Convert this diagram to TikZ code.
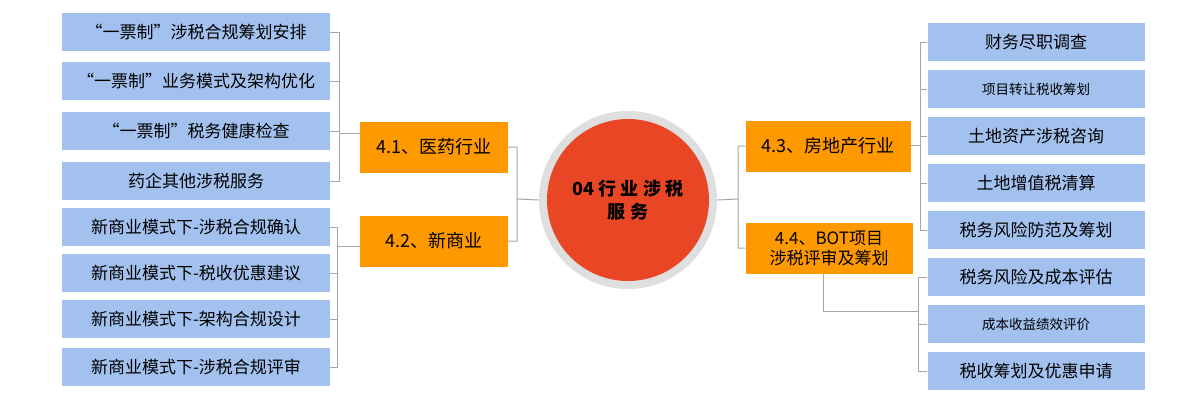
\documentclass[tikz,border=0pt]{standalone}
\usepackage{fontspec}
\setmainfont{Noto Sans CJK SC}
\usetikzlibrary{positioning}
\definecolor{leafblue}{HTML}{A3C1EE}
\definecolor{branchorange}{HTML}{FF9900}
\definecolor{hubred}{HTML}{E84624}
\tikzset{
  leaf/.style={fill=leafblue,minimum width=268pt,minimum height=38pt,inner sep=0pt,font=\fontsize{17}{19}\selectfont},
  rleaf/.style={leaf,minimum width=217pt},
  small/.style={font=\fontsize{13.5}{15}\selectfont},
  branch/.style={fill=branchorange,minimum height=51pt,inner sep=0pt,align=center,font=\fontsize{18}{21}\selectfont},
  link/.style={draw=gray!70,line width=1pt}
}
\begin{document}
\begin{tikzpicture}[x=1pt,y=-1pt]
  \useasboundingbox (0,0) rectangle (1200,400);

  % hub
  \node[circle,fill=gray!25,minimum size=178pt,inner sep=0pt] (ring) at (628,200) {};
  \node[circle,fill=hubred,minimum size=162pt,inner sep=0pt,align=center,
        font=\bfseries\fontsize{18}{23}\selectfont] (hub) at (628,200) {04 行 业 涉 税\\服 务};

  % branches
  \node[branch,minimum width=148pt] (b1) at (434,147) {4.1、医药行业};
  \node[branch,minimum width=148pt] (b2) at (434,241) {4.2、新商业};
  \node[branch,minimum width=165pt] (b3) at (828,146) {4.3、房地产行业};
  \node[branch,minimum width=167pt,font=\fontsize{17}{20}\selectfont] (b4) at (829,248) {4.4、BOT项目\\涉税评审及筹划};

  % left leaves
  \node[leaf] (l1) at (196,32) {“一票制”涉税合规筹划安排};
  \node[leaf] (l2) at (196,81) {“一票制”业务模式及架构优化};
  \node[leaf] (l3) at (196,131) {“一票制”税务健康检查};
  \node[leaf] (l4) at (196,181) {药企其他涉税服务};
  \node[leaf] (l5) at (196,227) {新商业模式下-涉税合规确认};
  \node[leaf] (l6) at (196,273) {新商业模式下-税收优惠建议};
  \node[leaf] (l7) at (196,319) {新商业模式下-架构合规设计};
  \node[leaf] (l8) at (196,367) {新商业模式下-涉税合规评审};

  % right leaves
  \node[rleaf] (r1) at (1036,42) {财务尽职调查};
  \node[rleaf,small] (r2) at (1036,89) {项目转让税收筹划};
  \node[rleaf] (r3) at (1036,136) {土地资产涉税咨询};
  \node[rleaf] (r4) at (1036,183) {土地增值税清算};
  \node[rleaf] (r5) at (1036,230) {税务风险防范及筹划};
  \node[rleaf] (r6) at (1036,277) {税务风险及成本评估};
  \node[rleaf,small] (r7) at (1036,324) {成本收益绩效评价};
  \node[rleaf] (r8) at (1036,371) {税收筹划及优惠申请};

  % connectors
  \coordinate (jl1) at (339,133);
  \coordinate (jl2) at (337,246);
  \coordinate (jc) at (517,199);
  \coordinate (jr) at (738,199);
  \coordinate (jr1) at (920,145);
  \coordinate (jr2) at (918,311);
  \coordinate (jb4) at (823,274);

  \foreach \n in {l1,l2,l3,l4} \draw[link] (\n.east) -| (jl1);
  \draw[link] (jl1) -- (b1.west |- jl1);
  \foreach \n in {l5,l6,l7,l8} \draw[link] (\n.east) -| (jl2);
  \draw[link] (jl2) -- (b2.west |- jl2);
  \draw[link] (b1.east) -| (jc) (b2.east) -| (jc) -- (ring.west);
  \draw[link] (ring.east) -- (jr) |- (b3.west) (jr) |- (b4.west);
  \foreach \n in {r1,r2,r3,r4,r5} \draw[link] (\n.west) -| (jr1);
  \draw[link] (b3.east |- jr1) -- (jr1);
  \foreach \n in {r6,r7,r8} \draw[link] (\n.west) -| (jr2);
  \draw[link] (jb4) |- (jr2);
\end{tikzpicture}
\end{document}
